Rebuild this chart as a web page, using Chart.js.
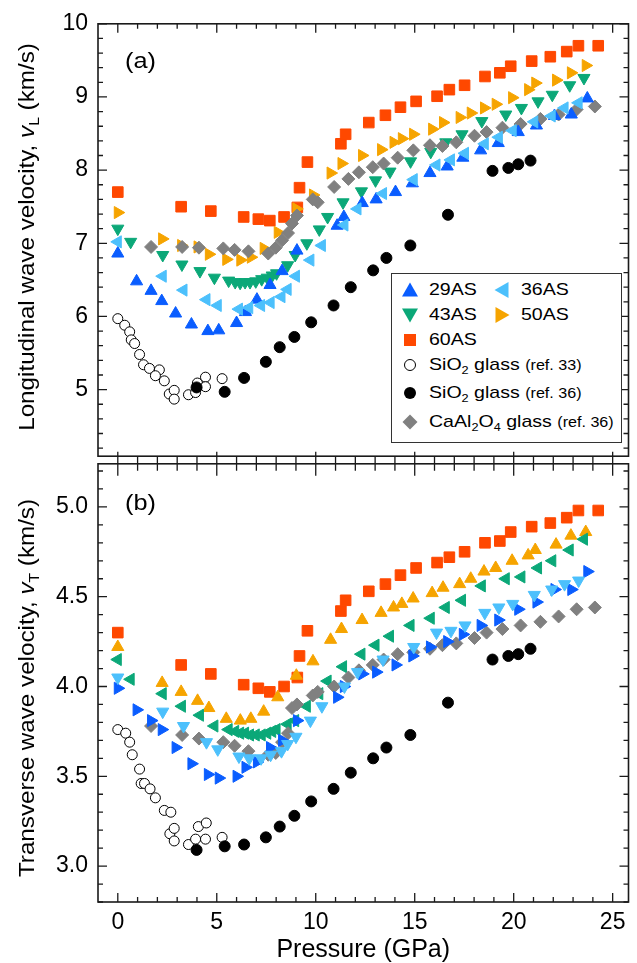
<!DOCTYPE html>
<html>
<head>
<meta charset="utf-8">
<script src="https://cdn.jsdelivr.net/npm/chart.js@4.4.1/dist/chart.umd.min.js"></script>
<style>
  html, body { margin: 0; padding: 0; background: #fff; }
  #page { position: relative; width: 637px; height: 963px; overflow: hidden;
          font-family: "Liberation Sans", Arial, sans-serif; color: #000; }
  canvas { position: absolute; left: 0; }
  #cL { top: 0; }
  #cT { top: 440px; }
  .ytitle { position: absolute; white-space: nowrap; font-size: 22px; line-height: 22px;
            transform: translate(-50%, -50%) rotate(-90deg) scaleX(1.1); }
  .ytitle sub, .lrow sub { font-size: 0.65em; vertical-align: -0.35em; line-height: 0; }
  .tag { position: absolute; font-size: 22px; line-height: 22px; transform: scaleX(1.15); transform-origin: left center; }
  #legend { position: absolute; left: 391px; top: 273px; width: 231px; height: 170px;
            box-sizing: border-box; border: 1px solid #333; background: #fff; }
  .lrow { position: absolute; height: 22px; line-height: 22px; font-size: 17px; white-space: nowrap;
          transform: scaleX(1.15); transform-origin: left center; }
  .lrow small { font-size: 14px; }
  .mk { position: absolute; width: 18px; height: 18px; }
</style>
</head>
<body>
<div id="page">
  <canvas id="cL" width="637" height="480"></canvas>
  <canvas id="cT" width="637" height="523"></canvas>

  <div class="ytitle" style="left:27px; top:237px">Longitudinal wave velocity, <i>v</i><sub>L</sub> (km/s)</div>
  <div class="ytitle" style="left:27px; top:688px">Transverse wave velocity, <i>v</i><sub>T</sub> (km/s)</div>
  <div class="tag" style="left:125px; top:50px">(a)</div>
  <div class="tag" style="left:125px; top:492px">(b)</div>

  <div id="legend"></div>
</div>

<script>
"use strict";

// --- Data (pressure in GPa, velocities in km/s) ---------------------------- //
const X_TICKS = [0, 5, 10, 15, 20, 25];
const VL_TICKS = [5, 6, 7, 8, 9, 10];
const VT_TICKS = [3.0, 3.5, 4.0, 4.5, 5.0];

const P_29 = [0, 0.95, 1.68, 2.22, 2.92, 3.72, 4.55, 5.1, 6.0, 6.45, 7.03, 7.69, 8.3, 9.05, 11.08,
  11.42, 12.35, 13.05, 14.03, 14.88, 15.77, 16.64, 17.43, 18.33, 19.22, 20.23, 21.15, 22.06, 22.91, 23.72];
const VL_29 = [6.86, 6.48, 6.35, 6.21, 6.04, 5.89, 5.80, 5.81, 5.91, 6.06, 6.23, 6.43, 6.62, 6.90, 7.24,
  7.36, 7.55, 7.60, 7.70, 7.82, 7.96, 8.05, 8.17, 8.27, 8.37, 8.52, 8.61, 8.74, 8.76, 8.98];
const VT_29 = [3.99, 3.87, 3.81, 3.76, 3.66, 3.57, 3.51, 3.49, 3.50, 3.55, 3.58, 3.66, 3.70, 3.81, 3.94,
  4.00, 4.07, 4.08, 4.12, 4.17, 4.22, 4.25, 4.29, 4.34, 4.37, 4.43, 4.47, 4.54, 4.54, 4.64];

const P_36 = [0, 2.27, 3.32, 4.48, 5.05, 6.12, 6.64, 7.24, 7.72, 8.27, 8.58, 9.0, 9.73, 10.31, 11.45,
  12.11, 13.4, 14.95, 16.1, 16.83, 17.54, 18.54, 19.25, 19.95, 21.04, 21.92, 22.57, 23.28];
const VL_36 = [7.02, 6.55, 6.36, 6.23, 6.15, 6.10, 6.12, 6.15, 6.19, 6.27, 6.37, 6.55, 6.77, 6.97, 7.25,
  7.47, 7.68, 7.87, 8.07, 8.14, 8.23, 8.36, 8.45, 8.54, 8.66, 8.74, 8.85, 8.92];
const VT_36 = [4.05, 3.86, 3.78, 3.69, 3.65, 3.61, 3.60, 3.60, 3.62, 3.64, 3.68, 3.72, 3.81, 3.89, 4.00,
  4.08, 4.15, 4.22, 4.30, 4.31, 4.34, 4.41, 4.44, 4.46, 4.51, 4.54, 4.57, 4.59];

const P_43 = [0, 0.65, 2.27, 3.24, 4.15, 4.88, 5.6, 5.93, 6.18, 6.43, 6.68, 6.97, 7.27, 7.55, 7.8, 8.02,
  8.58, 8.96, 9.55, 10.18, 10.6, 11.38, 12.31, 13.02, 13.75, 14.79, 15.81, 16.57, 17.39, 18.39, 19.6,
  20.39, 21.23, 21.95, 22.83, 23.55];
const VL_43 = [7.20, 7.02, 6.84, 6.71, 6.62, 6.53, 6.49, 6.47, 6.46, 6.47, 6.47, 6.48, 6.51, 6.53, 6.56, 6.59,
  6.70, 6.84, 7.00, 7.19, 7.36, 7.56, 7.71, 7.86, 7.98, 8.12, 8.25, 8.38, 8.49, 8.67, 8.76,
  8.85, 8.94, 9.03, 9.16, 9.26];
const VT_43 = [4.15, 4.04, 3.96, 3.89, 3.84, 3.78, 3.76, 3.75, 3.74, 3.74, 3.73, 3.73, 3.73, 3.74, 3.75, 3.76,
  3.79, 3.81, 3.89, 3.96, 4.03, 4.11, 4.18, 4.23, 4.28, 4.34, 4.38, 4.44, 4.48, 4.56, 4.60,
  4.61, 4.66, 4.70, 4.76, 4.82];

const P_50 = [0, 2.24, 3.2, 4.03, 4.6, 5.48, 6.19, 6.72, 7.37, 8.08, 9.02, 9.86, 10.75, 11.3, 12.34, 13.3,
  13.93, 14.35, 14.92, 15.88, 16.43, 17.27, 17.83, 18.5, 19.09, 19.92, 20.73, 21.09, 22.14, 22.89, 23.64];
const VL_50 = [7.42, 7.06, 6.97, 6.95, 6.85, 6.78, 6.77, 6.81, 6.93, 7.15, 7.47, 7.66, 7.96, 8.09, 8.20, 8.28,
  8.38, 8.43, 8.49, 8.56, 8.65, 8.72, 8.78, 8.85, 8.90, 8.99, 9.10, 9.19, 9.23, 9.33, 9.43];
const VT_50 = [4.22, 4.02, 3.97, 3.92, 3.88, 3.82, 3.81, 3.82, 3.86, 3.94, 4.06, 4.14, 4.26, 4.32, 4.37, 4.41,
  4.44, 4.46, 4.49, 4.52, 4.55, 4.57, 4.60, 4.64, 4.66, 4.70, 4.73, 4.76, 4.79, 4.84, 4.86];

const P_60 = [0, 3.2, 4.7, 6.36, 7.1, 7.68, 8.4, 9.07, 9.18, 9.58, 11.27, 11.51, 12.68, 13.52, 14.28,
  15.07, 16.13, 16.75, 17.52, 18.55, 19.3, 19.85, 20.91, 21.85, 22.68, 23.27, 24.27];
const VL_60 = [7.70, 7.50, 7.44, 7.36, 7.33, 7.31, 7.36, 7.49, 7.76, 8.11, 8.36, 8.49, 8.65, 8.75, 8.86,
  8.94, 9.01, 9.10, 9.16, 9.28, 9.33, 9.42, 9.49, 9.55, 9.62, 9.70, 9.70];
const VT_60 = [4.30, 4.12, 4.07, 4.01, 3.99, 3.97, 4.00, 4.05, 4.17, 4.31, 4.42, 4.48, 4.53, 4.57, 4.62,
  4.66, 4.69, 4.72, 4.75, 4.80, 4.81, 4.86, 4.89, 4.91, 4.94, 4.98, 4.98];

// SiO2 glass (ref. 33): pressures read separately for each panel
const P_S33_L = [0, 0.35, 0.6, 0.68, 0.85, 1.1, 1.3, 1.6, 2.1, 1.9, 2.35, 2.6, 2.85, 2.85, 3.57, 3.93,
  4.02, 4.43, 4.43, 5.27];
const VL_S33 = [5.97, 5.88, 5.79, 5.68, 5.63, 5.48, 5.34, 5.29, 5.27, 5.19, 5.12, 4.94, 4.99, 4.87, 4.93, 4.96,
  5.09, 5.17, 5.04, 5.15];
const P_S33_T = [0, 0.4, 0.6, 0.73, 1.1, 1.18, 1.35, 1.63, 1.9, 2.35, 2.68, 2.63, 2.85, 2.85, 3.57, 3.93,
  4.07, 4.47, 4.43, 5.27];
const VT_S33 = [3.76, 3.74, 3.69, 3.62, 3.54, 3.46, 3.46, 3.43, 3.38, 3.31, 3.30, 3.18, 3.21, 3.14, 3.12, 3.15,
  3.22, 3.24, 3.15, 3.16];

// SiO2 glass (ref. 36)
const P_S36 = [3.98, 5.4, 6.38, 7.48, 8.18, 8.92, 9.77, 10.9, 11.77, 12.9, 13.57, 14.78, 16.68, 18.93,
  19.73, 20.23, 20.85];
const VL_S36 = [5.03, 4.97, 5.16, 5.38, 5.58, 5.72, 5.92, 6.15, 6.40, 6.63, 6.80, 6.97, 7.39, 7.99,
  8.03, 8.08, 8.13];
const VT_S36 = [3.09, 3.11, 3.12, 3.16, 3.22, 3.28, 3.36, 3.43, 3.52, 3.60, 3.66, 3.73, 3.91, 4.15,
  4.17, 4.18, 4.21];

// CaAl2O4 glass (ref. 36)
const P_CA = [1.68, 3.25, 4.1, 5.33, 5.9, 6.6, 7.6, 7.98, 8.3, 8.6, 8.8, 9.05, 9.85, 10.1, 10.93, 11.65,
  12.18, 12.88, 13.43, 14.14, 14.93, 15.77, 16.4, 17.1, 18.02, 18.63, 19.43, 20.35, 21.35, 22.27, 23.18, 24.1];
const VL_CA = [6.95, 6.95, 6.94, 6.93, 6.91, 6.89, 6.86, 6.94, 7.04, 7.14, 7.27, 7.38, 7.60, 7.56, 7.77, 7.88,
  7.97, 8.04, 8.09, 8.17, 8.27, 8.34, 8.33, 8.38, 8.47, 8.52, 8.58, 8.63, 8.70, 8.76, 8.83, 8.87];
const VT_CA = [3.78, 3.73, 3.71, 3.69, 3.67, 3.64, 3.62, 3.63, 3.69, 3.74, 3.88, 3.90, 3.95, 3.97, 4.00, 4.05,
  4.09, 4.12, 4.15, 4.18, 4.19, 4.21, 4.23, 4.24, 4.27, 4.30, 4.32, 4.34, 4.36, 4.39, 4.43, 4.44];

// --- Styling ---------------------------------------------------------------- //
const C29 = "#0a5dff", C36 = "#4cc0fc", C43 = "#0ba878", C50 = "#f6a400", C60 = "#ff4800", CCA = "#808080";
const FONT = '"Liberation Sans", Arial, sans-serif';

function pts(xs, ys) {
  return xs.map((p, i) => ({ x: p, y: ys[i] }));
}

function ds(label, xs, ys, color, style, rot, r, hollow) {
  return {
    label,
    data: pts(xs, ys),
    showLine: false,
    pointStyle: style,
    pointRotation: rot,
    pointRadius: r,
    pointHoverRadius: r,
    pointBackgroundColor: hollow ? "#fff" : color,
    pointBorderColor: hollow ? "#000" : color,
    pointBorderWidth: 1,
  };
}

// Inward ticks on all four sides; "cross" draws ticks through the shared edge.
const frameTicks = {
  id: "frameTicks",
  afterDraw(chart, _args, o) {
    const { ctx, chartArea: a } = chart;
    const x = chart.scales.x, y = chart.scales.y;
    ctx.save();
    ctx.strokeStyle = "#1a1a1a";
    ctx.lineWidth = 1.6;
    ctx.strokeRect(a.left, a.top, a.right - a.left, a.bottom - a.top);
    ctx.lineWidth = 1.3;
    ctx.beginPath();
    for (let i = 0; i <= 25; i++) {
      const px = x.getPixelForValue(i);
      const major = i % 5 === 0;
      const len = major ? 9 : 5, c = major ? 12 : 7;
      if (o.top === "in") { ctx.moveTo(px, a.top); ctx.lineTo(px, a.top + len); }
      if (o.top === "cross") { ctx.moveTo(px, a.top - c); ctx.lineTo(px, a.top + c); }
      if (o.bottom === "in") { ctx.moveTo(px, a.bottom); ctx.lineTo(px, a.bottom - len); }
    }
    const k0 = Math.ceil(y.min / o.yStep - 1e-6), k1 = Math.floor(y.max / o.yStep + 1e-6);
    for (let k = k0; k <= k1; k++) {
      const py = y.getPixelForValue(k * o.yStep);
      const len = k % o.yMajorEvery === 0 ? 9 : 5;
      ctx.moveTo(a.left, py); ctx.lineTo(a.left + len, py);
      ctx.moveTo(a.right, py); ctx.lineTo(a.right - len, py);
    }
    ctx.stroke();
    ctx.restore();
  },
};

function yScale(min, max, ticks, fmt) {
  return {
    type: "linear", min, max,
    afterFit: (s) => { s.width = 98; },
    afterBuildTicks: (s) => { s.ticks = ticks.map((v) => ({ value: v })); },
    grid: { display: false, drawTicks: false },
    border: { display: false },
    ticks: { padding: 10, color: "#000", font: { family: FONT, size: 23 }, callback: fmt },
  };
}

function makeChart(id, datasets, opts) {
  return new Chart(document.getElementById(id), {
    type: "scatter",
    data: { datasets },
    options: {
      responsive: false,
      animation: false,
      events: [],
      layout: { padding: opts.padding },
      scales: { x: opts.x, y: opts.y },
      plugins: { legend: { display: false }, tooltip: { enabled: false }, frameTicks: opts.frame },
    },
    plugins: [frameTicks],
  });
}

// --- Panel (a): longitudinal ------------------------------------------------ //
// first dataset is drawn on top
makeChart("cL", [
  ds("SiO2 glass (ref. 36)", P_S36, VL_S36, "#000", "circle", 0, 5.5),
  ds("SiO2 glass (ref. 33)", P_S33_L, VL_S33, "#000", "circle", 0, 5, true),
  ds("36AS", P_36, VL_36, C36, "triangle", 270, 7),
  ds("29AS", P_29, VL_29, C29, "triangle", 0, 7),
  ds("CaAl2O4 glass (ref. 36)", P_CA, VL_CA, CCA, "rectRot", 0, 6.5),
  ds("43AS", P_43, VL_43, C43, "triangle", 180, 7),
  ds("50AS", P_50, VL_50, C50, "triangle", 90, 7),
  ds("60AS", P_60, VL_60, C60, "rect", 0, 7.5),
], {
  padding: { left: 0, right: 3, top: 21, bottom: 18 },
  x: { type: "linear", min: -1, max: 25.8, display: false },
  y: yScale(4.09, 10, VL_TICKS, (v) => String(v)),
  frame: { top: "in", bottom: "none", yStep: 0.2, yMajorEvery: 5 },
});

// --- Panel (b): transverse -------------------------------------------------- //
makeChart("cT", [
  ds("SiO2 glass (ref. 36)", P_S36, VT_S36, "#000", "circle", 0, 5.5),
  ds("SiO2 glass (ref. 33)", P_S33_T, VT_S33, "#000", "circle", 0, 5, true),
  ds("36AS", P_36, VT_36, C36, "triangle", 180, 7),
  ds("29AS", P_29, VT_29, C29, "triangle", 90, 7),
  ds("CaAl2O4 glass (ref. 36)", P_CA, VT_CA, CCA, "rectRot", 0, 6.5),
  ds("43AS", P_43, VT_43, C43, "triangle", 270, 7),
  ds("50AS", P_50, VT_50, C50, "triangle", 0, 7),
  ds("60AS", P_60, VT_60, C60, "rect", 0, 7.5),
], {
  padding: { left: 0, right: 3, top: 22, bottom: 0 },
  x: {
    type: "linear", min: -1, max: 25.8,
    afterFit: (s) => { s.height = 61; },
    afterBuildTicks: (s) => { s.ticks = X_TICKS.map((v) => ({ value: v })); },
    grid: { display: false, drawTicks: false },
    border: { display: false },
    ticks: { padding: 7, maxRotation: 0, autoSkip: false, color: "#000", font: { family: FONT, size: 23 } },
    title: { display: true, text: "Pressure (GPa)", color: "#000", padding: 0,
             font: { family: FONT, size: 25, lineHeight: 1 } },
  },
  y: yScale(2.8, 5.24, VT_TICKS, (v) => v.toFixed(1)),
  frame: { top: "cross", bottom: "in", yStep: 0.1, yMajorEvery: 5 },
});

// --- Legend (HTML, so the subscripts stay real text) ------------------------ //
function marker(kind, color) {
  const s = {
    up: `<polygon points="9,1.5 17,15.5 1,15.5" fill="${color}"/>`,
    down: `<polygon points="9,16.5 17,2.5 1,2.5" fill="${color}"/>`,
    left: `<polygon points="1.5,9 15.5,1 15.5,17" fill="${color}"/>`,
    right: `<polygon points="16.5,9 2.5,1 2.5,17" fill="${color}"/>`,
    square: `<rect x="3" y="3" width="12" height="12" fill="${color}"/>`,
    open: `<circle cx="9" cy="9" r="5.5" fill="#fff" stroke="#000" stroke-width="1"/>`,
    dot: `<circle cx="9" cy="9" r="6" fill="#000"/>`,
    diamond: `<polygon points="9,1.5 16.5,9 9,16.5 1.5,9" fill="${color}"/>`,
  }[kind];
  return `<svg class="mk" viewBox="0 0 18 18">${s}</svg>`;
}

const LEGEND_ROWS = [
  [410, 290, "up", C29, "29AS"],
  [502, 290, "left", C36, "36AS"],
  [410, 315, "down", C43, "43AS"],
  [502, 315, "right", C50, "50AS"],
  [410, 340, "square", C60, "60AS"],
  [410, 365, "open", "#000", "SiO<sub>2</sub> glass <small>(ref. 33)</small>"],
  [410, 393, "dot", "#000", "SiO<sub>2</sub> glass <small>(ref. 36)</small>"],
  [410, 422, "diamond", CCA, "CaAl<sub>2</sub>O<sub>4</sub> glass <small>(ref. 36)</small>"],
];

const page = document.getElementById("page");
for (const [cx, cy, kind, color, html] of LEGEND_ROWS) {
  const m = document.createElement("div");
  m.innerHTML = marker(kind, color);
  m.firstChild.style.left = (cx - 9) + "px";
  m.firstChild.style.top = (cy - 9) + "px";
  page.appendChild(m.firstChild);
  const t = document.createElement("div");
  t.className = "lrow";
  t.style.left = (cx + 19) + "px";
  t.style.top = (cy - 11) + "px";
  t.innerHTML = html;
  page.appendChild(t);
}
</script>
</body>
</html>
